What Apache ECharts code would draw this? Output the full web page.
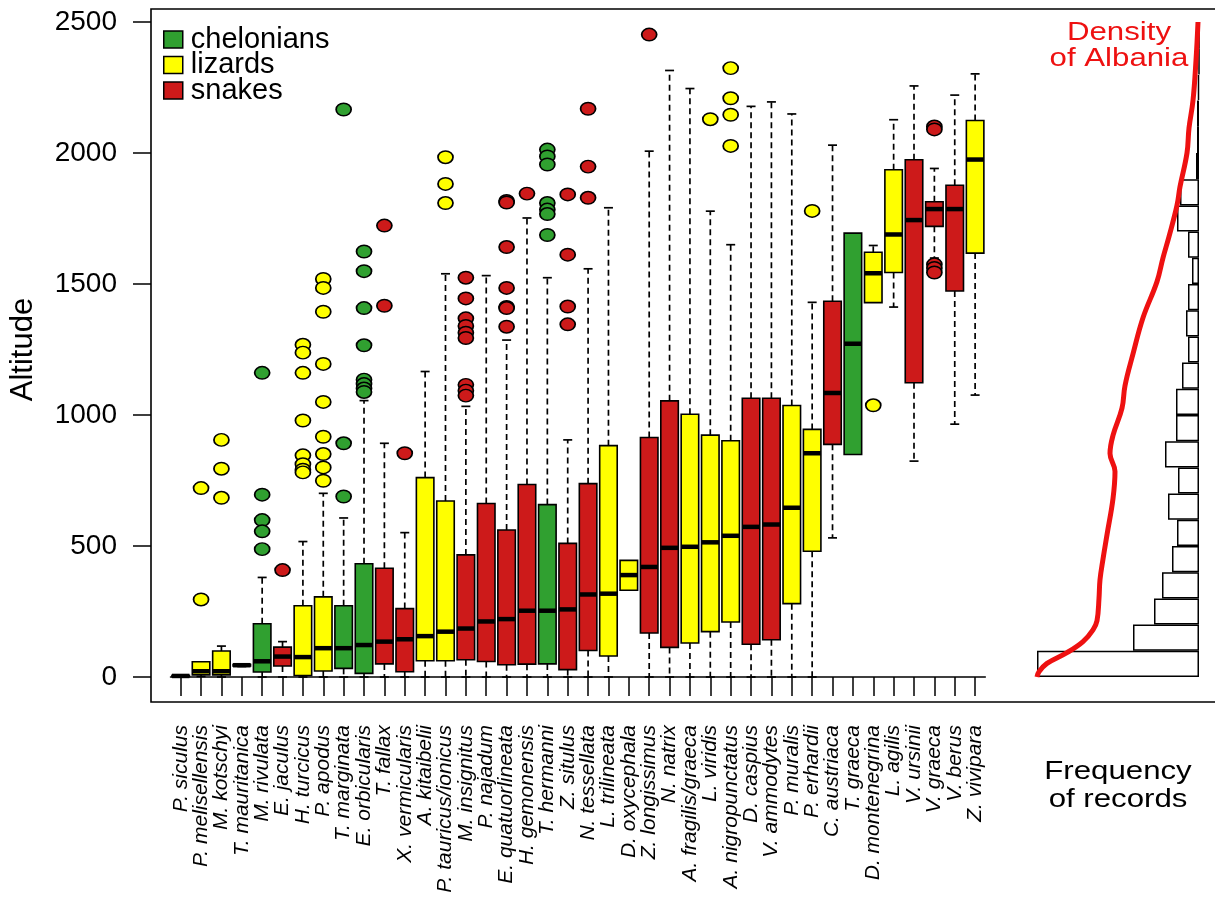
<!DOCTYPE html>
<html><head><meta charset="utf-8">
<script src="https://cdn.jsdelivr.net/npm/echarts@6/dist/echarts.min.js"></script>
<style>html,body{margin:0;padding:0;background:#fff}#chart{width:1215px;height:897px}</style>
</head><body><div id="chart"></div>
<script>
// ---------- DATA ----------
const species = ['P. siculus','P. melisellensis','M. kotschyi','T. mauritanica','M. rivulata','E. jaculus','H. turcicus','P. apodus','T. marginata','E. orbicularis','T. fallax','X. vermicularis','A. kitaibelii','P. tauricus/ionicus','M. insignitus','P. najadum','E. quatuorlineata','H. gemonensis','T. hermanni','Z. situlus','N. tessellata','L. trilineata','D. oxycephala','Z. longissimus','N. natrix','A. fragilis/graeca','L. viridis','A. nigropunctatus','D. caspius','V. ammodytes','P. muralis','P. erhardii','C. austriaca','T. graeca','D. montenegrina','L. agilis','V. ursinii','V. graeca','V. berus','Z. vivipara'];
const speciesGroup = ['lizards','lizards','lizards','lizards','chelonians','snakes','lizards','lizards','chelonians','chelonians','snakes','snakes','lizards','lizards','snakes','snakes','snakes','snakes','chelonians','snakes','snakes','lizards','lizards','snakes','snakes','lizards','lizards','lizards','snakes','snakes','lizards','lizards','snakes','chelonians','lizards','lizards','snakes','snakes','snakes','lizards'];
const whiskerLow  = [0,2,0,40,0,0,0,0,0,0,0,0,0,0,0,0,0,0,0,0,0,0,331,0,0,0,0,0,0,0,0,0,531,849,1429,1412,824,1599,965,1076];
const quartile1   = [2,8,8,42,19,42,6,23,33,14,50,20,62,62,66,59,47,49,50,28,101,80,331,168,113,130,173,210,125,142,280,480,888,849,1429,1544,1123,1720,1473,1618];
const medianAlt   = [4,22,22,45,60,78,76,110,110,122,135,144,156,173,185,212,221,253,253,258,315,318,389,420,493,497,514,539,573,582,646,854,1084,1272,1541,1689,1744,1786,1786,1975];
const quartile3   = [6,58,99,48,203,114,272,306,272,432,415,261,761,672,466,662,561,735,658,510,738,883,445,914,1054,1003,923,902,1064,1064,1036,945,1434,1694,1621,1936,1974,1814,1877,2124];
const whiskerHigh = [8,58,118,50,380,135,517,701,607,1055,892,551,1166,1539,1033,1532,1286,1752,1524,905,1558,1791,445,2007,2315,2246,1778,1650,2178,2195,2149,1430,2030,1694,1647,2127,2256,1941,2221,2302];
const outlierAlt = [
  [], [721,296], [905,795,684], [], [1161,696,599,556,488], [408],
  [1268,1238,1161,979,846,812,791,781], [1519,1485,1394,1195,1050,917,851,800,749],
  [2166,892,689], [1624,1549,1408,1266,1135,1118,1101,1088], [1723,1417], [854],
  [], [1984,1882,1809], [1524,1445,1369,1340,1314,1294,1115,1093,1074], [],
  [1817,1811,1641,1485,1412,1408,1337], [1845], [2013,1987,1956,1809,1784,1767,1687],
  [1842,1612,1414,1346], [2169,1948,1829], [], [], [2452], [], [], [2129],
  [2324,2209,2146,2027], [], [], [], [1779], [], [], [1037], [], [], [2101,2090,1575,1561,1544], [], []
];
const groupNames = ['chelonians','lizards','snakes'];
const groupColors = ['#30A030','#FFFF00','#CD1A1A'];
const altitudeTicks = [0,500,1000,1500,2000,2500];
const histBins = ['0-100','100-200','200-300','300-400','400-500','500-600','600-700','700-800','800-900','900-1000','1000-1100','1100-1200','1200-1300','1300-1400','1400-1500','1500-1600','1600-1700','1700-1800','1800-1900','1900-2000','2000-2100','2100-2200','2200-2300','2300-2400','2400-2500'];
const histFrequency = [162,66,45,37,27,22,31,21,34,23,23,17,11,13,11,7,11,22,19,3,2,2,1,0,0];
const densityAlt   = [0,20,52,93,135,180,215,300,371,450,543,681,784,853,922,1026,1112,1233,1371,1509,1600,1681,1800,1871,2000,2095,2200,2353,2500];
const densityValue = [162,160,152,132,116,106,102,100,99,96,92,86,84,89,86,77,74,66,56,42,36,30,22,19,12,10,6,3,1];

// ---------- CHART ----------
const chart = echarts.init(document.getElementById('chart'), null, {renderer:'canvas'});
const FONT = '"Liberation Sans", Arial, Helvetica, sans-serif';

function renderBox(params, api) {
  const x = api.value(0);
  const lo = api.coord([x, api.value(1)]);
  const b1 = api.coord([x, api.value(2)]);
  const md = api.coord([x, api.value(3)]);
  const b3 = api.coord([x, api.value(4)]);
  const hi = api.coord([x, api.value(5)]);
  const bw = api.size([1, 0])[0] * 0.86;
  const cx = lo[0], half = bw / 2, cap = 4.5;
  const dashed = {stroke:'#000', lineWidth:1.7, lineDash:[6,4], fill:null};
  const solid = {stroke:'#000', lineWidth:1.7, fill:null};
  const ch = [];
  if (hi[1] < b3[1] - 0.5) {
    ch.push({type:'line', shape:{x1:cx, y1:b3[1], x2:cx, y2:hi[1]}, style:dashed});
    ch.push({type:'line', shape:{x1:cx-cap, y1:hi[1], x2:cx+cap, y2:hi[1]}, style:solid});
  }
  if (lo[1] > b1[1] + 0.5) {
    ch.push({type:'line', shape:{x1:cx, y1:b1[1], x2:cx, y2:lo[1]}, style:dashed});
    ch.push({type:'line', shape:{x1:cx-cap, y1:lo[1], x2:cx+cap, y2:lo[1]}, style:solid});
  }
  ch.push({type:'rect', shape:{x:cx-half, y:b3[1], width:bw, height:Math.max(b1[1]-b3[1], 0.5)},
           style:{fill:api.visual('color'), stroke:'#000', lineWidth:1.6}});
  ch.push({type:'line', shape:{x1:cx-half, y1:md[1], x2:cx+half, y2:md[1]}, style:{stroke:'#000', lineWidth:4.5}});
  return {type:'group', children:ch};
}

const series = [];
groupNames.forEach((g, gi) => {
  const boxData = [];
  const outData = [];
  species.forEach((s, i) => {
    if (speciesGroup[i] !== g) return;
    boxData.push([i, whiskerLow[i], quartile1[i], medianAlt[i], quartile3[i], whiskerHigh[i]]);
    outlierAlt[i].forEach(v => outData.push([i, v]));
  });
  series.push({
    name: g, type: 'custom', xAxisIndex: 0, yAxisIndex: 0,
    itemStyle: {color: groupColors[gi]},
    encode: {x: 0, y: [1,2,3,4,5]},
    renderItem: renderBox, data: boxData, z: 3
  });
  series.push({
    name: g, type: 'scatter', xAxisIndex: 0, yAxisIndex: 0,
    symbol: 'circle', symbolSize: [15, 12.5],
    itemStyle: {color: groupColors[gi], borderColor:'#000', borderWidth:1.6, opacity:1},
    data: outData, z: 4, silent: true
  });
});
series.push({
  name: 'Frequency of records', type: 'bar', xAxisIndex: 1, yAxisIndex: 1,
  data: histFrequency, barCategoryGap: '0%',
  itemStyle: {color:'#fff', borderColor:'#000', borderWidth:1.5}, z: 2, silent: true
});
series.push({
  name: 'Density of Albania', type: 'line', xAxisIndex: 1, yAxisIndex: 2,
  data: densityAlt.map((a, i) => [densityValue[i], a]),
  showSymbol: false, smooth: 0.4,
  lineStyle: {color:'#EE1111', width:5}, z: 5, silent: true
});

const option = {
  backgroundColor: '#fff',
  animation: false,
  textStyle: {fontFamily: FONT},
  grid: [
    {left:170.5, right:229.7, top:22, bottom:220, outerBoundsMode:'none'},
    {left:1037, right:16, top:22, bottom:220, outerBoundsMode:'none'},
    {left:151, right:-3, top:9, bottom:195, show:true, borderColor:'#000', borderWidth:1.6, backgroundColor:'transparent', z:10, outerBoundsMode:'none'}
  ],
  legend: {
    orient:'vertical', left:163, top:25, padding:0, itemGap:-3.5, itemWidth:19, itemHeight:17,
    icon:'rect', selectedMode:false,
    itemStyle:{borderColor:'#000', borderWidth:1.5},
    textStyle:{fontSize:29, color:'#000', fontFamily:FONT, lineHeight:25.5, padding:[0,0,0,3]},
    data: groupNames.map((n, i) => ({name:n, itemStyle:{color:groupColors[i]}}))
  },
  xAxis: [
    {type:'category', gridIndex:0, data:species, offset:25,
     axisLine:{show:true, lineStyle:{color:'#000', width:1.5}},
     axisTick:{show:true, alignWithLabel:true, length:19, lineStyle:{color:'#000', width:1.5}},
     axisLabel:{interval:0, rotate:90, margin:23, fontSize:21, fontStyle:'italic', color:'#000', fontFamily:FONT},
     splitLine:{show:false}},
    {type:'value', gridIndex:1, inverse:true, min:0, max:162, show:false},
    {type:'value', gridIndex:2, show:false, min:0, max:1}
  ],
  yAxis: [
    {type:'value', gridIndex:0, min:altitudeTicks[0], max:altitudeTicks[altitudeTicks.length-1], interval:500, offset:19.5,
     name:'Altitude', nameLocation:'middle', nameGap:112, nameRotate:90,
     nameTextStyle:{fontSize:31, color:'#000', fontFamily:FONT},
     axisLine:{show:false},
     axisTick:{show:true, length:18, lineStyle:{color:'#000', width:1.5}},
     axisLabel:{margin:34, fontSize:28, color:'#000', fontFamily:FONT, formatter: v => String(v)},
     splitLine:{show:false}},
    {type:'category', gridIndex:1, data:histBins, show:false},
    {type:'value', gridIndex:1, min:0, max:2500, show:false},
    {type:'value', gridIndex:2, show:false, min:0, max:1}
  ],
  graphic: [
    {type:'text', x:1119, y:20, scaleX:1.2, z:20,
     style:{text:'Density\nof Albania', fill:'#EE1111', font:'26px ' + FONT, align:'center', verticalAlign:'top', lineHeight:26}},
    {type:'text', x:1118, y:758, scaleX:1.2, z:20,
     style:{text:'Frequency\nof records', fill:'#000', font:'26px ' + FONT, align:'center', verticalAlign:'top', lineHeight:28}}
  ],
  series: series
};
chart.setOption(option);
</script>
</body></html>
